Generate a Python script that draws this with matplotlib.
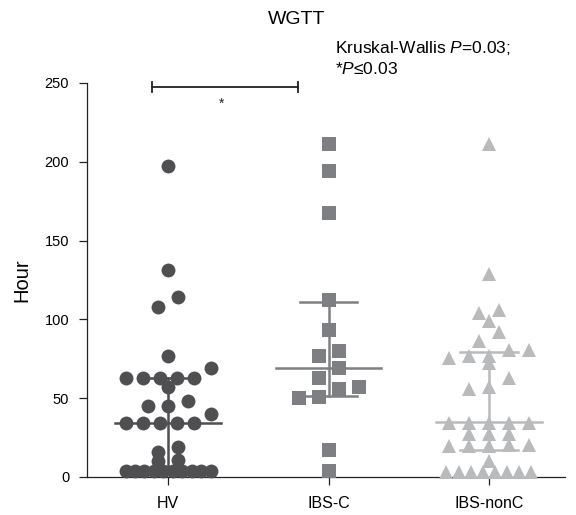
import numpy as np
import matplotlib.pyplot as plt

plt.rcParams['font.family'] = ['Liberation Sans', 'DejaVu Sans']
plt.rcParams['mathtext.fontset'] = 'custom'
plt.rcParams['mathtext.rm'] = 'Liberation Sans'
plt.rcParams['mathtext.it'] = 'Liberation Sans:italic'

# data (hours)
groups = ['HV', 'IBS-C', 'IBS-nonC']
hv = [197.5, 131, 114, 107.5, 77, 69, 63, 63, 63, 63, 63, 57, 48, 45, 45, 40,
      34, 34, 34, 34, 34, 19, 16, 11, 10, 4, 4, 4, 4, 4, 4, 4, 4, 4, 4]
ibs_c = [211, 194, 167.5, 112, 93, 80, 77, 69, 63, 57, 56, 51, 50, 17, 4]
ibs_nonc = [211, 129, 106, 104, 99, 92, 86.5, 80.5, 80.5, 77, 77, 75.5, 72,
            62.5, 57, 56, 34, 34, 34, 34, 34, 27, 27, 27, 20, 19.5, 19.5, 19.5,
            20, 10, 3.4, 3.4, 3.4, 3.4, 3.4, 3.4, 3.4, 3.4]

# median with interquartile range as drawn
medians = [34, 69, 35]
q1 = [5, 51.5, 17]
q3 = [63, 111, 79]

colors = ['#4f4f51', '#7e7f83', '#b9babc']
markers = ['o', 's', '^']
msizes = [10, 10, 9.5]
row_height = [6.8, 7, 6.5]


def row_offsets(vals, h=7, step=20, width=85):
    # Prism-like scatter: points within h of a row's top value share a row,
    # each row is spread evenly around the centre (offsets in px)
    vals = np.asarray(vals, dtype=float)
    order = np.argsort(-vals)
    xs = np.zeros(len(vals))
    i = 0
    while i < len(order):
        top = vals[order[i]]
        j = i
        while j < len(order) and vals[order[j]] >= top - h:
            j += 1
        row = order[i:j][::-1]  # ascending from left to right
        n = len(row)
        if n > 1:
            s = min(step, width / (n - 1))
            xs[row] = (np.arange(n) - (n - 1) / 2) * s
        i = j
    return xs


fig = plt.figure(figsize=(5.76, 5.15), dpi=100)
ax = fig.add_axes([0.151, 0.074, 0.830, 0.765])
ax.set_xlim(-0.505, 2.474)
ax.set_ylim(0, 250)

# pixels per x data unit
ppx = fig.dpi * 5.76 * 0.830 / (2.474 + 0.505)

for k, vals in enumerate([hv, ibs_c, ibs_nonc]):
    off = row_offsets(vals, h=row_height[k]) / ppx
    ax.plot(k + off, vals, linestyle='none', marker=markers[k],
            markersize=msizes[k], color=colors[k], markeredgewidth=0,
            clip_on=False, zorder=3)
    ax.plot([k - 0.33, k + 0.33], [medians[k]] * 2, color=colors[k], lw=1.8, zorder=4)
    ax.plot([k, k], [q1[k], q3[k]], color=colors[k], lw=1.8, zorder=4)
    for q in (q1[k], q3[k]):
        ax.plot([k - 0.18, k + 0.18], [q, q], color=colors[k], lw=1.8, zorder=4)

# significance bracket HV vs IBS-C
ax.plot([-0.1, 0.81], [247.5, 247.5], color='#222222', lw=1.3, clip_on=False)
for xb in (-0.1, 0.81):
    ax.plot([xb, xb], [244.5, 250.5], color='#222222', lw=1.3, clip_on=False)
ax.text(0.336, 237, '*', ha='center', va='center', fontsize=10, color='#222222')

for s in ['top', 'right']:
    ax.spines[s].set_visible(False)
for s in ['left', 'bottom']:
    ax.spines[s].set_linewidth(0.9)
    ax.spines[s].set_color('#222222')

ax.set_yticks([0, 50, 100, 150, 200, 250])
ax.set_xticks([0, 1, 2])
ax.set_xticklabels(groups)
ax.tick_params(axis='y', length=5.8, width=0.9, pad=7, labelsize=10.5, color='#222222')
ax.tick_params(axis='x', length=5.5, width=0.9, pad=8, labelsize=11.5, color='#222222')
ax.set_ylabel('Hour', fontsize=14.5)
ax.yaxis.set_label_coords(-0.117, 0.5)

fig.text(297 / 576, 1 - 20 / 515, 'WGTT', ha='center', va='center', fontsize=14)
fig.text(335 / 576, 1 - 48 / 515, 'Kruskal-Wallis $\\mathit{P}$=0.03;',
         ha='left', va='center', fontsize=12.5)
fig.text(335 / 576, 1 - 69 / 515, '*$\\mathit{P}$≤0.03',
         ha='left', va='center', fontsize=12.5)

fig.savefig('out.png', dpi=100)
